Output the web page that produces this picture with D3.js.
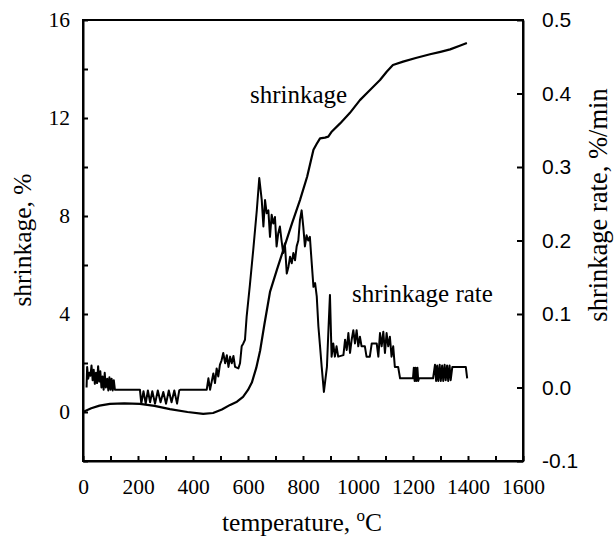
<!DOCTYPE html>
<html lang="en">
    <head>
        <meta charset="utf-8">
        <title>Shrinkage and shrinkage rate vs temperature</title>
        <script type="text/javascript" src="https://cdn.jsdelivr.net/npm/d3@7"></script>
        <style type="text/css">
            body { margin: 0; background: #fff; }
            .serif { font-family: "Liberation Serif", "Times New Roman", serif; }
            .sans { font-family: "Liberation Sans", Arial, sans-serif; }
        </style>
    </head>

    <body>
        <script type="text/javascript">
            // shrinkage curve, temperature (C) and shrinkage (%)
            var shrinkT = [0, 30, 60, 98, 150, 207, 260, 316, 380, 437, 473, 505, 535, 560, 582, 600,
                           614, 630, 644, 660, 680, 705, 728, 760, 789, 815, 838, 850, 862, 880, 892,
                           905, 935, 970, 1007, 1040, 1080, 1105, 1127, 1164, 1210, 1262, 1300, 1335,
                           1370, 1396];
            var shrinkV = [0, 0.15, 0.26, 0.33, 0.35, 0.33, 0.25, 0.12, 0.0, -0.08, -0.04, 0.1, 0.29, 0.42,
                           0.62, 0.9, 1.2, 1.8, 2.5, 3.6, 4.9, 5.8, 6.6, 7.7, 8.65, 9.6, 10.7, 10.95, 11.17,
                           11.2, 11.24, 11.45, 11.78, 12.2, 12.73, 13.1, 13.55, 13.9, 14.16, 14.3, 14.45,
                           14.6, 14.7, 14.8, 14.95, 15.06];

            // shrinkage rate curve, temperature (C) and rate (%/min)
            var rateT = [13, 15, 19, 23, 27, 31, 35, 39, 43, 47, 51, 55, 59, 63, 67, 71, 75, 79, 83, 88,
                         92, 96, 100, 104, 108, 112, 116, 207, 212, 220, 228, 236, 244, 252, 262, 272,
                         282, 292, 302, 312, 322, 332, 342, 350, 355, 444, 450, 456, 462, 468, 474, 480,
                         486, 492, 498, 504, 510, 517, 523, 529, 535, 541, 547, 553, 565, 571, 577, 583,
                         589, 595, 607, 619, 632, 641, 650, 656, 662, 668, 674, 680, 686, 692, 698, 704,
                         710, 716, 722, 728, 734, 741, 747, 753, 759, 765, 771, 777, 783, 789, 795, 801,
                         807, 813, 819, 825, 831, 838, 844, 850, 856, 862, 868, 876, 887, 893, 898, 904,
                         910, 916, 922, 928, 947, 953, 959, 965, 971, 977, 983, 989, 995, 1001, 1007,
                         1013, 1025, 1031, 1043, 1050, 1056, 1068, 1074, 1080, 1086, 1092, 1098, 1104,
                         1110, 1116, 1122, 1128, 1134, 1146, 1153, 1200, 1203, 1206, 1209, 1212, 1216,
                         1219, 1222, 1273, 1280, 1284, 1288, 1292, 1297, 1301, 1306, 1310, 1315, 1319,
                         1324, 1328, 1333, 1337, 1343, 1392, 1397];
            var rateV = [0.0, 0.028, 0.012, 0.02, 0.016, 0.03, 0.01, 0.024, 0.005, 0.02, 0.006, 0.029,
                         0.008, 0.022, 0.0, 0.015, -0.003, 0.02, 0.0, 0.012, -0.004, 0.014, -0.003, 0.012,
                         -0.004, 0.01, -0.003, -0.003, -0.022, -0.005, -0.022, -0.004, -0.02, -0.005,
                         -0.022, -0.004, -0.02, -0.006, -0.022, -0.004, -0.02, -0.004, -0.022, -0.004,
                         -0.003, -0.003, -0.003, 0.0125, -0.003, 0.008, 0.019, 0.006, 0.026, 0.015, 0.031,
                         0.037, 0.047, 0.033, 0.044, 0.028, 0.042, 0.033, 0.043, 0.028, 0.026, 0.033,
                         0.056, 0.06, 0.065, 0.096, 0.14, 0.187, 0.241, 0.285, 0.255, 0.219, 0.255, 0.237,
                         0.241, 0.205, 0.235, 0.223, 0.232, 0.192, 0.21, 0.219, 0.2, 0.183, 0.196, 0.155,
                         0.164, 0.178, 0.169, 0.183, 0.173, 0.192, 0.2, 0.228, 0.241, 0.219, 0.192, 0.207,
                         0.2, 0.205, 0.173, 0.137, 0.142, 0.124, 0.083, 0.056, 0.028, -0.006, 0.028, 0.083,
                         0.126, 0.042, 0.06, 0.042, 0.056, 0.042, 0.044, 0.065, 0.051, 0.074, 0.047, 0.065,
                         0.078, 0.06, 0.078, 0.056, 0.069, 0.056, 0.056, 0.042, 0.042, 0.06, 0.06, 0.06,
                         0.042, 0.074, 0.056, 0.076, 0.047, 0.074, 0.056, 0.069, 0.042, 0.056, 0.028,
                         0.028, 0.0125, 0.0125, 0.027, 0.009, 0.027, 0.009, 0.027, 0.009, 0.0125, 0.0125,
                         0.031, 0.009, 0.03, 0.009, 0.031, 0.009, 0.03, 0.009, 0.031, 0.01, 0.03, 0.009,
                         0.03, 0.01, 0.028, 0.028, 0.0125];

            // tick values
            var xTicks = d3.range(0, 1601, 100);
            var leftTicks = d3.range(-2, 17, 2);
            var rightTicks = [-0.1, 0.0, 0.1, 0.2, 0.3, 0.4, 0.5];

            var w = 615;
            var h = 543;
            // plot box edges (note: "top" clashes with window.top)
            var pL = 83, pR = 523, pT = 20, pB = 461;

            var xScale = d3.scaleLinear().domain([0, 1600]).range([pL, pR]);
            var yLeft = d3.scaleLinear().domain([-2, 16]).range([pB, pT]);
            var yRight = d3.scaleLinear().domain([-0.1, 0.5]).range([pB, pT]);

            var svg = d3.select("body")
                        .append("svg")
                        .attr("width", w)
                        .attr("height", h);

            // left axis, labels every 4
            var axL = svg.append("g")
                .attr("transform", "translate(" + pL + ",0)")
                .call(d3.axisLeft(yLeft)
                    .tickValues(leftTicks)
                    .tickSizeInner(-5)
                    .tickSizeOuter(0)
                    .tickPadding(13)
                    .tickFormat(function(d) { return d % 4 === 0 && d >= 0 ? d : ""; }));
            axL.selectAll("text").attr("class", "serif").attr("font-size", "21.5px").attr("fill", "#000");

            // bottom axis, labels every 200
            var axB = svg.append("g")
                .attr("transform", "translate(0," + pB + ")")
                .call(d3.axisBottom(xScale)
                    .tickValues(xTicks)
                    .tickSizeInner(-5)
                    .tickSizeOuter(0)
                    .tickPadding(18)
                    .tickFormat(function(d) { return d % 200 === 0 ? d : ""; }));
            axB.selectAll("text").attr("class", "serif").attr("font-size", "21.5px").attr("fill", "#000");

            // right axis
            var axR = svg.append("g")
                .attr("transform", "translate(" + pR + ",0)")
                .call(d3.axisRight(yRight)
                    .tickValues(rightTicks)
                    .tickSizeInner(-6)
                    .tickSizeOuter(0)
                    .tickPadding(19)
                    .tickFormat(function(d) { return d.toFixed(1); }));
            axR.selectAll("text").attr("class", "sans").attr("font-size", "21px").attr("fill", "#000");

            svg.selectAll(".domain, .tick line")
                .attr("stroke", "#000")
                .attr("stroke-width", 2);

            // frame, gives the top edge too
            svg.append("rect")
                .attr("x", pL)
                .attr("y", pT)
                .attr("width", pR - pL)
                .attr("height", pB - pT)
                .attr("fill", "none")
                .attr("stroke", "#000")
                .attr("stroke-width", 2);

            var shrinkLine = d3.line()
                .x(function(d, i) { return xScale(shrinkT[i]); })
                .y(function(d) { return yLeft(d); });

            var rateLine = d3.line()
                .x(function(d, i) { return xScale(rateT[i]); })
                .y(function(d) { return yRight(d); });

            svg.append("path")
                .attr("d", shrinkLine(shrinkV))
                .attr("fill", "none")
                .attr("stroke", "#000")
                .attr("stroke-width", 2.2)
                .attr("stroke-linejoin", "round");

            svg.append("path")
                .attr("d", rateLine(rateV))
                .attr("fill", "none")
                .attr("stroke", "#000")
                .attr("stroke-width", 2)
                .attr("stroke-linejoin", "round");

            // curve labels
            svg.append("text")
                .attr("class", "serif")
                .attr("x", 250)
                .attr("y", 103)
                .attr("font-size", "25px")
                .text("shrinkage");

            svg.append("text")
                .attr("class", "serif")
                .attr("x", 352)
                .attr("y", 302)
                .attr("font-size", "25px")
                .text("shrinkage rate");

            // axis titles
            var xt = svg.append("text")
                .attr("class", "serif")
                .attr("x", 302)
                .attr("y", 531)
                .attr("text-anchor", "middle")
                .attr("font-size", "25.5px");
            xt.append("tspan").text("temperature, ");
            xt.append("tspan").attr("dy", -10).attr("font-size", "17px").text("o");
            xt.append("tspan").attr("dy", 10).text("C");

            svg.append("text")
                .attr("class", "serif")
                .attr("transform", "translate(31,240) rotate(-90)")
                .attr("text-anchor", "middle")
                .attr("font-size", "25.5px")
                .text("shrinkage, %");

            svg.append("text")
                .attr("class", "serif")
                .attr("transform", "translate(607,205) rotate(-90)")
                .attr("text-anchor", "middle")
                .attr("font-size", "26.5px")
                .text("shrinkage rate, %/min");
        </script>
    </body>
</html>
